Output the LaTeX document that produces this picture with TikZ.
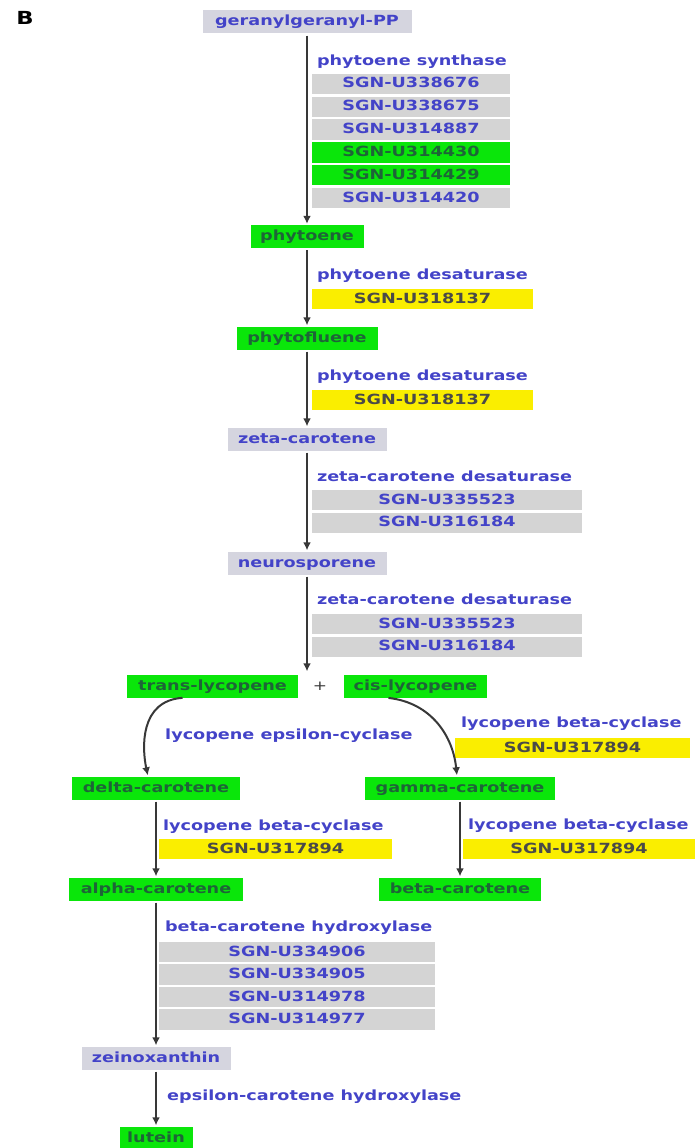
\documentclass[tikz,border=0pt]{standalone}
\usepackage{fontspec}
\setmainfont{DejaVu Sans}[FakeStretch=1.26]
\usetikzlibrary{arrows.meta,positioning}
\definecolor{metgrey}{HTML}{D5D5DF}
\definecolor{genegrey}{HTML}{D4D4D4}
\definecolor{lime}{HTML}{0AE60A}
\definecolor{yel}{HTML}{FAEE00}
\definecolor{enzblue}{HTML}{4343C8}
\definecolor{txtgreen}{HTML}{1E6438}
\definecolor{txtolive}{HTML}{4A4A48}
\definecolor{rxnline}{HTML}{383838}

\begin{document}
\begin{tikzpicture}[x=1pt,y=1pt,
  every node/.style={font=\bfseries\fontsize{14}{16}\selectfont, inner sep=0pt, text height=11pt, text depth=3pt},
  met/.style={fill=metgrey, text=enzblue, minimum height=23pt},
  metg/.style={fill=lime, text=txtgreen, minimum height=23pt},
  gene/.style={fill=genegrey, text=enzblue, minimum height=20.5pt},
  geneg/.style={gene, fill=lime, text=txtgreen},
  geney/.style={gene, fill=yel, text=txtolive},
  enz/.style={text=enzblue, anchor=west},
  rxn/.style={draw=rxnline, line width=2pt, -{Latex[length=8pt,width=8pt]}, shorten <=2pt, shorten >=1pt}]
\useasboundingbox (0,0) rectangle (699,-1148);

\node[font=\bfseries\fontsize{18}{20}\selectfont, text height=13pt, text depth=0pt] (panel) at (25,-18.5) {B};

% metabolites
\node[met, minimum width=209pt] (ggpp) at (307,-22) {geranylgeranyl-PP};
\node[metg, minimum width=113pt] (phyt) at (307,-236.5) {phytoene};
\node[metg, minimum width=141pt] (phyf) at (307,-338) {phytofluene};
\node[met, minimum width=159pt] (zeta) at (307,-439) {zeta-carotene};
\node[met, minimum width=159pt] (neur) at (307,-563) {neurosporene};
\node[metg, minimum width=171pt] (tlyc) at (212.5,-686) {trans-lycopene};
\node[text=rxnline, font=\fontsize{13.5}{15}\selectfont] (plus) at (320,-686) {+};
\node[metg, minimum width=143pt] (clyc) at (415.5,-686) {cis-lycopene};
\node[metg, minimum width=168pt] (dcar) at (156,-788) {delta-carotene};
\node[metg, minimum width=190pt] (gcar) at (460,-788) {gamma-carotene};
\node[metg, minimum width=174pt] (acar) at (156,-889) {alpha-carotene};
\node[metg, minimum width=162pt] (bcar) at (460,-889) {beta-carotene};
\node[met, minimum width=149pt] (zein) at (156,-1058) {zeinoxanthin};
\node[metg, minimum width=73pt] (lute) at (156,-1138) {lutein};

% phytoene synthase
\node[gene, minimum width=198pt] (psy1) at (411,-84) {SGN-U338676};
\node[gene, minimum width=198pt, below=1.9pt of psy1] (psy2) {SGN-U338675};
\node[gene, minimum width=198pt, below=1.9pt of psy2] (psy3) {SGN-U314887};
\node[geneg, minimum width=198pt, below=1.9pt of psy3] (psy4) {SGN-U314430};
\node[geneg, minimum width=198pt, below=1.9pt of psy4] (psy5) {SGN-U314429};
\node[gene, minimum width=198pt, below=1.9pt of psy5] (psy6) {SGN-U314420};
\node[enz] (psy) at ([xshift=5pt,yshift=22pt]psy1.west) {phytoene synthase};

% phytoene desaturase
\node[geney, minimum width=221pt] (pds1) at (422.5,-299) {SGN-U318137};
\node[enz] (pds) at ([xshift=5pt,yshift=24pt]pds1.west) {phytoene desaturase};
\node[geney, minimum width=221pt] (pdsb1) at (422.5,-400) {SGN-U318137};
\node[enz] (pdsb) at ([xshift=5pt,yshift=24pt]pdsb1.west) {phytoene desaturase};

% zeta-carotene desaturase
\node[gene, minimum width=270pt] (zds1) at (447,-500) {SGN-U335523};
\node[gene, minimum width=270pt, below=1.9pt of zds1] (zds2) {SGN-U316184};
\node[enz] (zds) at ([xshift=5pt,yshift=23pt]zds1.west) {zeta-carotene desaturase};
\node[gene, minimum width=270pt] (zdsb1) at (447,-624) {SGN-U335523};
\node[gene, minimum width=270pt, below=1.9pt of zdsb1] (zdsb2) {SGN-U316184};
\node[enz] (zdsb) at ([xshift=5pt,yshift=24pt]zdsb1.west) {zeta-carotene desaturase};

% cyclases
\node[enz] (lcye) at (165,-735) {lycopene epsilon-cyclase};
\node[geney, minimum width=235pt] (lcyb1) at (572.5,-748) {SGN-U317894};
\node[enz] (lcyb) at ([xshift=6pt,yshift=25pt]lcyb1.west) {lycopene beta-cyclase};
\node[geney, minimum width=233pt] (lcybl1) at (275.5,-849) {SGN-U317894};
\node[enz] (lcybl) at ([xshift=4pt,yshift=23pt]lcybl1.west) {lycopene beta-cyclase};
\node[geney, minimum width=232pt] (lcybr1) at (579,-849) {SGN-U317894};
\node[enz] (lcybr) at ([xshift=5pt,yshift=24pt]lcybr1.west) {lycopene beta-cyclase};

% hydroxylases
\node[gene, minimum width=276pt] (bch1) at (297,-952) {SGN-U334906};
\node[gene, minimum width=276pt, below=1.6pt of bch1] (bch2) {SGN-U334905};
\node[gene, minimum width=276pt, below=1.6pt of bch2] (bch3) {SGN-U314978};
\node[gene, minimum width=276pt, below=1.6pt of bch3] (bch4) {SGN-U314977};
\node[enz] (bch) at ([xshift=6pt,yshift=25pt]bch1.west) {beta-carotene hydroxylase};
\node[enz] (ech) at (167,-1096) {epsilon-carotene hydroxylase};

% reactions
\draw[rxn] (ggpp) -- (phyt);
\draw[rxn] (phyt) -- (phyf);
\draw[rxn] (phyf) -- (zeta);
\draw[rxn] (zeta) -- (neur);
\draw[rxn, shorten >=3pt] (neur) -- (neur.south |- tlyc.north);
\draw[rxn] ([xshift=-28pt]tlyc.south) .. controls +(-45,-3) and +(-6,28) .. ([xshift=-8pt]dcar.north);
\draw[rxn] ([xshift=-29pt]clyc.south) .. controls +(45,-5) and +(-4,40) .. ([xshift=-3pt]gcar.north);
\draw[rxn] (dcar) -- (acar);
\draw[rxn] (gcar) -- (bcar);
\draw[rxn] (acar) -- (zein);
\draw[rxn] (zein) -- (lute);
\end{tikzpicture}
\end{document}
